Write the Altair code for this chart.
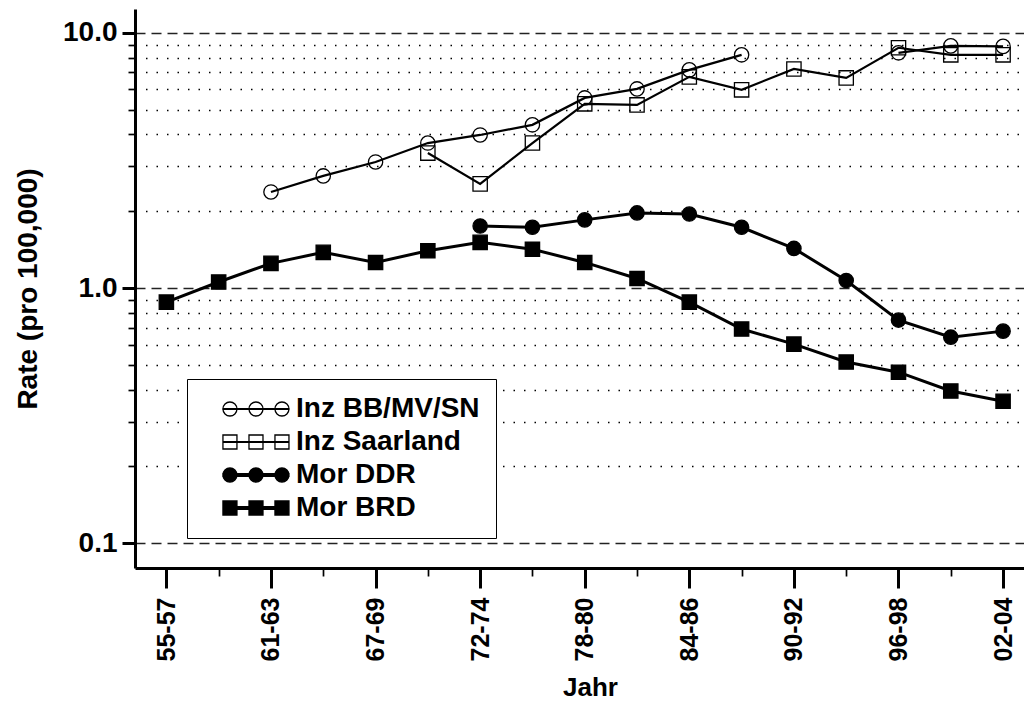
import altair as alt
import pandas as pd

# ---- data ----
periods = ["55-57", "58-60", "61-63", "64-66", "67-69", "70-71", "72-74", "75-77",
           "78-80", "81-83", "84-86", "87-89", "90-92", "93-95", "96-98", "99-01", "02-04"]
labelled_periods = ["55-57", "61-63", "67-69", "72-74", "78-80", "84-86", "90-92", "96-98", "02-04"]
minor_periods = ["58-60", "64-66", "70-71", "75-77", "81-83", "87-89", "93-95", "99-01"]

series_names = ["Inz BB/MV/SN", "Inz Saarland", "Mor DDR", "Mor BRD"]

inz_bb = [None, None, 2.38, 2.75, 3.12, 3.70, 3.98, 4.36, 5.56, 6.03, 7.16, 8.20,
          None, None, 8.35, 8.89, 8.85]
inz_saar = [None, None, None, None, None, 3.38, 2.56, 3.70, 5.27, 5.22, 6.72, 5.98,
            7.22, 6.66, 8.74, 8.20, 8.20]
mor_ddr = [None, None, None, None, None, None, 1.75, 1.73, 1.85, 1.97, 1.95, 1.73,
           1.43, 1.07, 0.749, 0.642, 0.678]
mor_brd = [0.881, 1.056, 1.25, 1.38, 1.26, 1.40, 1.51, 1.42, 1.26, 1.09, 0.881, 0.691,
           0.603, 0.513, 0.468, 0.395, 0.360]

y_major_ticks = [0.1, 1, 10]
y_minor_ticks = [0.2, 0.3, 0.4, 0.5, 0.6, 0.7, 0.8, 0.9, 2, 3, 4, 5, 6, 7, 8, 9]

# ---- long table, with a segment id so that gaps break the lines ----
rows = []
for name, vals in zip(series_names, [inz_bb, inz_saar, mor_ddr, mor_brd]):
    seg = 0
    prev = None
    for p, v in zip(periods, vals):
        if v is None:
            prev = None
            continue
        if prev is None:
            seg += 1
        rows.append({"period": p, "rate": v, "series": name, "seg": f"{name}-{seg}"})
        prev = v
df = pd.DataFrame(rows)
legend_df = pd.DataFrame({"series": series_names})

FONT = "Liberation Sans"

# ---- legend symbols: three markers joined by a line ----
def three(kind, half):
    c = [1.85, 5.57, 9.28]
    p = f"M{c[0]-1},{-half} L{c[2]+1},{-half} L{c[2]+1},{half} L{c[0]-1},{half} Z "
    for x in c:
        if kind == "circle":
            p += f"M{x-1},0 A1,1 0 1,1 {x+1},0 A1,1 0 1,1 {x-1},0 Z "
        else:
            p += f"M{x-1},-1 L{x+1},-1 L{x+1},1 L{x-1},1 Z "
    return p.strip()

legend_paths = [three("circle", 0.05), three("square", 0.05),
                three("circle", 0.2), three("square", 0.2)]
fills = ["transparent", "transparent", "black", "black"]
strokes = ["black", "black", "black", "black"]

x_scale = alt.Scale(type="point", domain=periods, padding=0.5, align=0.6)
y_scale = alt.Scale(type="log", domain=[0.08, 12.4], nice=False)

x_major = alt.Axis(orient="bottom", values=labelled_periods, labelAngle=-90,
                   labelFont=FONT, labelFontSize=25, labelFontWeight="bold",
                   labelColor="black", labelPadding=9, labelLimit=200,
                   tickSize=20, tickWidth=3, tickColor="black",
                   domain=True, domainWidth=3, domainColor="black", grid=False,
                   title="Jahr", titleFont=FONT, titleFontSize=26, titleX=455,
                   titleFontWeight="bold", titleColor="black", titlePadding=14)
x_minor = alt.Axis(orient="bottom", values=minor_periods, labels=False,
                   tickSize=8, tickWidth=1.7, tickColor="black",
                   domain=False, grid=False, title=None)
y_major = alt.Axis(orient="left", values=y_major_ticks, format=".1f",
                   labelFont=FONT, labelFontSize=28, labelFontWeight="bold",
                   labelColor="black", labelPadding=5,
                   tickSize=13, tickWidth=3, tickColor="black",
                   domain=True, domainWidth=3, domainColor="black",
                   grid=True, gridDash=[10, 6], gridColor="#222222", gridWidth=1.3,
                   title="Rate (pro 100,000)", titleFont=FONT, titleFontSize=28,
                   titleFontWeight="bold", titleColor="black", titlePadding=20)
y_minor = alt.Axis(orient="left", values=y_minor_ticks, labels=False,
                   tickSize=7, tickWidth=1.7, tickColor="black", domain=False,
                   grid=True, gridDash=[1.5, 9], gridColor="black", gridWidth=1.3,
                   title=None)

base = alt.Chart(df)

lines_inz = base.transform_filter(
    alt.FieldOneOfPredicate(field="series", oneOf=series_names[:2])
).mark_line(color="black", strokeWidth=2.2).encode(
    x=alt.X("period:O", scale=x_scale, axis=x_major),
    y=alt.Y("rate:Q", scale=y_scale, axis=y_major),
    detail="seg:N",
)

lines_mor = base.transform_filter(
    alt.FieldOneOfPredicate(field="series", oneOf=series_names[2:])
).mark_line(color="black", strokeWidth=3).encode(
    x=alt.X("period:O", scale=x_scale, axis=None),
    y=alt.Y("rate:Q", scale=y_scale, axis=None),
    detail="seg:N",
)

points = base.mark_point(stroke="black", strokeWidth=1.3, size=205, opacity=1).encode(
    x=alt.X("period:O", scale=x_scale, axis=x_minor),
    y=alt.Y("rate:Q", scale=y_scale, axis=y_minor),
    shape=alt.Shape("series:N", scale=alt.Scale(domain=series_names,
                    range=["circle", "square", "circle", "square"]), legend=None),
    fill=alt.Fill("series:N", scale=alt.Scale(domain=series_names, range=fills),
                  legend=None),
)

leg = alt.Legend(title=None, orient="none", legendX=52, legendY=370,
                 direction="vertical", padding=16, rowPadding=5,
                 labelFont=FONT, labelFontSize=28, labelFontWeight="bold",
                 labelColor="black", labelOffset=65, labelLimit=400,
                 symbolSize=196, symbolStrokeWidth=1.3, symbolStrokeColor="black",
                 symbolOpacity=1, strokeColor="black", fillColor="white")

legend_layer = alt.Chart(legend_df).mark_point(
    opacity=0, size=196, strokeWidth=1.3
).encode(
    shape=alt.Shape("series:N", scale=alt.Scale(domain=series_names, range=legend_paths),
                    legend=leg),
    fill=alt.Fill("series:N", scale=alt.Scale(domain=series_names, range=fills),
                  legend=leg),
    stroke=alt.Stroke("series:N", scale=alt.Scale(domain=series_names, range=strokes),
                      legend=leg),
)

chart = alt.layer(lines_inz, lines_mor, points, legend_layer).resolve_axis(
    x="independent", y="independent"
).resolve_scale(
    shape="independent", fill="independent", stroke="independent"
).properties(
    width=889, height=559,
    padding={"left": 135, "top": 9, "right": 0, "bottom": 144},
    autosize=alt.AutoSizeParams(type="none"),
    background="white",
).configure_view(stroke=None)

chart.save("out.html", embed_options={"renderer": "svg", "actions": False})
